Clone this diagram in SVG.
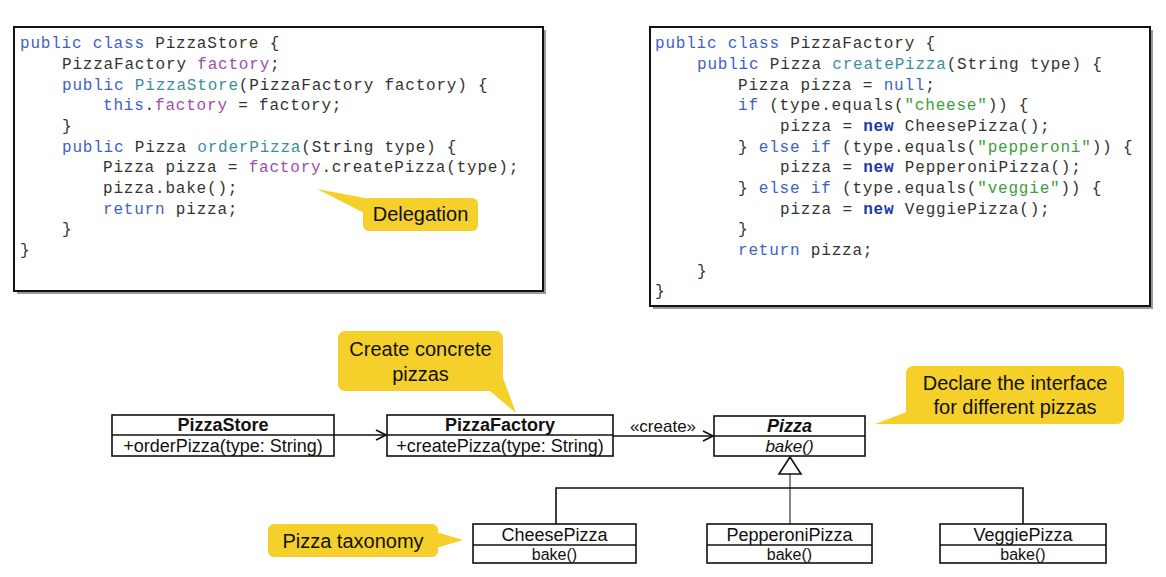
<svg xmlns="http://www.w3.org/2000/svg" width="1166" height="577" viewBox="0 0 1166 577">
<style>
.code{font-family:"Liberation Mono","DejaVu Sans Mono",monospace;font-size:16px;letter-spacing:0.8px;fill:#333;white-space:pre}
.kw{fill:#3d5fc8}
.fn{fill:#3b8e9e}
.fd{fill:#a24ca8}
.st{fill:#3a9e3a}
.nw{fill:#1b35a8;font-weight:bold}
.box{fill:#fff;stroke:#111;stroke-width:2}
.shadow{fill:#9a9a9a}
.uml{fill:#fff;stroke:#111;stroke-width:1.6}
.sep{stroke:#111;stroke-width:1.4}
.t{font-family:"Liberation Sans",Arial,sans-serif;fill:#111;text-anchor:middle}
.name{font-size:18px;font-weight:bold}
.op{font-size:18px}
.call{fill:#f5cf2a}
.ct{font-family:"Liberation Sans",Arial,sans-serif;font-size:20px;fill:#111;text-anchor:middle}
.ln{stroke:#111;stroke-width:1.6;fill:none}
</style>
<defs>
<marker id="open" markerWidth="12" markerHeight="12" refX="11" refY="6" orient="auto" markerUnits="userSpaceOnUse">
<path d="M1,1 L11,6 L1,11" fill="none" stroke="#111" stroke-width="1.6"/>
</marker>
</defs>
<rect width="1166" height="577" fill="#fff"/>

<g id="code-pizzastore">
<rect class="shadow" x="17" y="30" width="529" height="264"/>
<rect class="box" x="14" y="27" width="529" height="264"/>
<text class="code" x="20" y="48"><tspan class="kw">public class</tspan> PizzaStore {</text>
<text class="code" x="62" y="69">PizzaFactory <tspan class="fd">factory</tspan>;</text>
<text class="code" x="62" y="90"><tspan class="kw">public</tspan> <tspan class="fn">PizzaStore</tspan>(PizzaFactory factory) {</text>
<text class="code" x="103" y="110"><tspan class="kw">this</tspan>.<tspan class="fd">factory</tspan> = factory;</text>
<text class="code" x="62" y="131">}</text>
<text class="code" x="62" y="152"><tspan class="kw">public</tspan> Pizza <tspan class="fn">orderPizza</tspan>(String type) {</text>
<text class="code" x="103" y="172">Pizza pizza = <tspan class="fd">factory</tspan>.createPizza(type);</text>
<text class="code" x="103" y="193">pizza.bake();</text>
<text class="code" x="103" y="214"><tspan class="kw">return</tspan> pizza;</text>
<text class="code" x="62" y="234">}</text>
<text class="code" x="20" y="255">}</text>
</g>

<g id="code-pizzafactory">
<rect class="shadow" x="653" y="30" width="500" height="279"/>
<rect class="box" x="650" y="27" width="500" height="279"/>
<text class="code" x="655" y="48"><tspan class="kw">public class</tspan> PizzaFactory {</text>
<text class="code" x="697" y="69"><tspan class="kw">public</tspan> Pizza <tspan class="fn">createPizza</tspan>(String type) {</text>
<text class="code" x="738" y="90">Pizza pizza = <tspan class="kw">null</tspan>;</text>
<text class="code" x="738" y="110"><tspan class="kw">if</tspan> (type.equals(<tspan class="st">"cheese"</tspan>)) {</text>
<text class="code" x="780" y="131">pizza = <tspan class="nw">new</tspan> CheesePizza();</text>
<text class="code" x="738" y="152">} <tspan class="kw">else if</tspan> (type.equals(<tspan class="st">"pepperoni"</tspan>)) {</text>
<text class="code" x="780" y="172">pizza = <tspan class="nw">new</tspan> PepperoniPizza();</text>
<text class="code" x="738" y="193">} <tspan class="kw">else if</tspan> (type.equals(<tspan class="st">"veggie"</tspan>)) {</text>
<text class="code" x="780" y="214">pizza = <tspan class="nw">new</tspan> VeggiePizza();</text>
<text class="code" x="738" y="234">}</text>
<text class="code" x="738" y="255"><tspan class="kw">return</tspan> pizza;</text>
<text class="code" x="697" y="276">}</text>
<text class="code" x="655" y="296">}</text>
</g>

<g id="callout-delegation">
<polygon class="call" points="317,189 370,199 366,214"/>
<rect class="call" x="363" y="198" width="115" height="33" rx="6"/>
<text class="ct" x="420.5" y="221">Delegation</text>
</g>

<g id="callout-create">
<polygon class="call" points="490,391 503,378 516,413"/>
<rect class="call" x="338" y="331" width="165" height="60" rx="7"/>
<text class="ct" x="420.5" y="356">Create concrete</text>
<text class="ct" x="420.5" y="381">pizzas</text>
</g>

<g id="callout-interface">
<polygon class="call" points="875,424 912,410 916,424"/>
<rect class="call" x="906" y="366" width="218" height="58" rx="7"/>
<text class="ct" x="1015" y="390">Declare the interface</text>
<text class="ct" x="1015" y="414">for different pizzas</text>
</g>

<g id="callout-taxonomy">
<polygon class="call" points="436,532 463,540 436,548"/>
<rect class="call" x="268" y="524" width="170" height="33" rx="6"/>
<text class="ct" x="353" y="548">Pizza taxonomy</text>
</g>

<g id="PizzaStore">
<rect class="uml" x="112" y="415" width="222" height="41"/>
<line class="sep" x1="112" y1="435" x2="334" y2="435"/>
<text class="t name" x="223" y="431">PizzaStore</text>
<text class="t op" x="223" y="452">+orderPizza(type: String)</text>
</g>

<g id="PizzaFactory">
<rect class="uml" x="387" y="415" width="226" height="41"/>
<line class="sep" x1="387" y1="435" x2="613" y2="435"/>
<text class="t name" x="500" y="431">PizzaFactory</text>
<text class="t op" x="500" y="452">+createPizza(type: String)</text>
</g>

<g id="Pizza">
<rect class="uml" x="714" y="416" width="151" height="40"/>
<line class="sep" x1="714" y1="436" x2="865" y2="436"/>
<text class="t name" x="789.5" y="432" font-style="italic">Pizza</text>
<text class="t" x="789.5" y="452" font-size="17" font-style="italic">bake()</text>
</g>

<g id="CheesePizza">
<rect class="uml" x="473" y="524" width="163" height="39"/>
<line class="sep" x1="473" y1="545" x2="636" y2="545"/>
<text class="t op" x="554.5" y="541">CheesePizza</text>
<text class="t" x="554.5" y="560" font-size="16">bake()</text>
</g>

<g id="PepperoniPizza">
<rect class="uml" x="707" y="524" width="165" height="39"/>
<line class="sep" x1="707" y1="545" x2="872" y2="545"/>
<text class="t op" x="789.5" y="541">PepperoniPizza</text>
<text class="t" x="789.5" y="560" font-size="16">bake()</text>
</g>

<g id="VeggiePizza">
<rect class="uml" x="940" y="524" width="166" height="39"/>
<line class="sep" x1="940" y1="545" x2="1106" y2="545"/>
<text class="t op" x="1023" y="541">VeggiePizza</text>
<text class="t" x="1023" y="560" font-size="16">bake()</text>
</g>

<g id="connectors">
<line class="ln" x1="334" y1="435" x2="386" y2="435" marker-end="url(#open)"/>
<line class="ln" x1="613" y1="436" x2="713" y2="436" marker-end="url(#open)"/>
<text class="t" x="663" y="432" font-size="17">«create»</text>
<line x1="790" y1="474" x2="790" y2="524" stroke="#111" stroke-width="1"/>
<polyline class="ln" points="556,524 556,488 1023,488 1023,524"/>
<polygon points="790,457 779,474 801,474" fill="#fff" stroke="#111" stroke-width="1.6"/>
</g>
</svg>
